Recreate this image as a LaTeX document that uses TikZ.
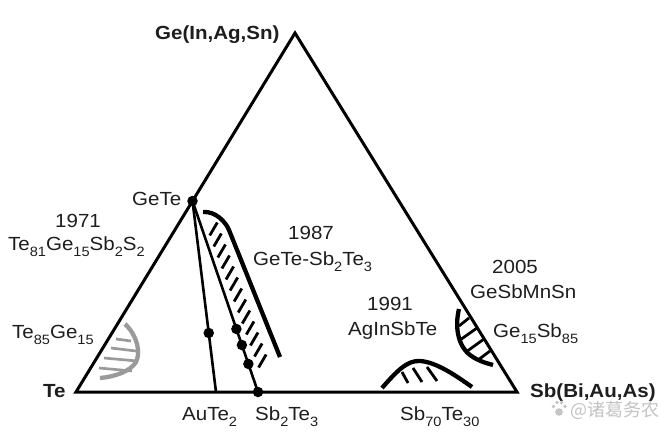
\documentclass[tikz,border=0pt]{standalone}
\usepackage{fontspec}
\setmainfont{Liberation Sans}[FakeStretch=1.08]
\newfontfamily\cjk{Noto Sans CJK SC}
\usetikzlibrary{calc}
\newcommand\sbx[1]{\raisebox{-6pt}{\fontsize{13.5}{13.5}\selectfont #1}}
\definecolor{txt}{HTML}{1E1E1E}
\definecolor{gcurve}{HTML}{9A9A9A}
\definecolor{wmark}{HTML}{C4C4C4}
\begin{document}
\begin{tikzpicture}[x=1pt,y=-1pt,
  lbl/.style={inner sep=0pt, anchor=base west, font=\fontsize{19}{19}\selectfont, text=txt},
  blbl/.style={lbl, font=\fontsize{19}{19}\selectfont\bfseries},
  edge/.style={line width=3pt, line join=miter},
  tie/.style={line width=2.6pt},
  dot/.style={circle, fill=black, inner sep=0pt, minimum size=10.5pt},
  hatch/.style={line width=2.8pt},
  bound/.style={line width=4.3pt},
  ghatch/.style={line width=2.7pt, draw=gcurve},
  gbound/.style={line width=4.3pt, draw=gcurve}]
\fill[white] (0,0) rectangle (667,436);
\useasboundingbox (0,0) rectangle (667,436);

% vertices and points
\coordinate (Te) at (76,392);
\coordinate (Ge) at (295,33);
\coordinate (Sb) at (517,392);
\coordinate (GeTe) at ($(Te)!0.532!(Ge)$);
\coordinate (AuTe) at (216,392);
\coordinate (SbTe) at (258,392);

% triangle and tie lines
\draw[edge] (Te) -- (Ge) -- (Sb) -- cycle;
\draw[tie] (GeTe) -- (AuTe);
\draw[tie] (GeTe) -- (SbTe);

% dots
\node[dot] (dGeTe) at (GeTe) {};
\node[dot] (dAu) at ($(GeTe)!0.691!(AuTe)$) {};
\node[dot] (dSb1) at ($(GeTe)!0.670!(SbTe)$) {};
\node[dot] (dSb2) at ($(GeTe)!0.754!(SbTe)$) {};
\node[dot] (dSb3) at ($(GeTe)!0.853!(SbTe)$) {};
\node[dot] (dSbTe) at (SbTe) {};

% 1987 region
\draw[bound] (203,212) .. controls (216,211) and (226,222.6) .. (229,230) -- (280,357);
\foreach \i in {0,...,12}{
  \pgfmathsetmacro\yc{229+11*\i}
  \pgfmathsetmacro\xc{193+0.340*(\yc-201)+11+0.33*\i}
  \draw[hatch] (\xc-3.8,\yc+6.5) -- (\xc+3.8,\yc-6.5);
}

% 1991 region
\draw[bound] (382,388) .. controls (396,372) and (407,360) .. (420,361) .. controls (436,362) and (455,375) .. (472,387);
\draw[hatch] (402,372) -- (408,383);
\draw[hatch] (413,368) -- (422,382);
\draw[hatch] (427,367) -- (437,381);

% 2005 region
\draw[bound] (459,309) .. controls (455,325) and (457,345) .. (470,355) .. controls (478,361) and (486,363) .. (493,365);
\draw[hatch] (459,326) -- (469,318);
\draw[hatch] (460,340) -- (477,328);
\draw[hatch] (466,352) -- (484,339);
\draw[hatch] (478,360) -- (490,351);

% Te85Ge15 region (grey)
\draw[gbound] (125,324) .. controls (137,335) and (141,352) .. (136,362) .. controls (130,372) and (113,377) .. (100,378);
\draw[ghatch] (116,339) -- (131,341);
\draw[ghatch] (111,348) -- (136,351);
\draw[ghatch] (104,358) -- (137,361);
\draw[ghatch] (99,368) -- (132,371);

% labels
\node[blbl] (tGe) at (155,40) {Ge(In,Ag,Sn)};
\node[lbl] (tGeTe) at (132,205) {GeTe};
\node[lbl] (t1971) at (55,227) {1971};
\node[lbl] (tTeGeSbS) at (8,250) {Te\sbx{81}Ge\sbx{15}Sb\sbx{2}S\sbx{2}};
\node[lbl] (tTeGe) at (12,338) {Te\sbx{85}Ge\sbx{15}};
\node[blbl] (tTe) at (43,397.5) {Te};
\node[lbl] (tAuTe) at (182,420) {AuTe\sbx{2}};
\node[lbl] (tSbTe) at (255,420) {Sb\sbx{2}Te\sbx{3}};
\node[lbl] (t1987) at (288,239) {1987};
\node[lbl] (tGeTeSbTe) at (253,265) {GeTe-Sb\sbx{2}Te\sbx{3}};
\node[lbl] (t1991) at (367,310) {1991};
\node[lbl] (tAIST) at (348,335) {AgInSbTe};
\node[lbl] (t2005) at (492,273) {2005};
\node[lbl] (tGSMS) at (470,298) {GeSbMnSn};
\node[lbl] (tGeSb) at (493,337) {Ge\sbx{15}Sb\sbx{85}};
\node[blbl] (tSb) at (530,397) {Sb(Bi,Au,As)};
\node[lbl] (tSbTe2) at (400,420) {Sb\sbx{70}Te\sbx{30}};

% watermark
\fill[wmark] (559,412) circle (3.8pt);
\fill[wmark] (553.5,406.5) circle (1.9pt);
\fill[wmark] (557,402.5) circle (1.9pt);
\fill[wmark] (561.5,402.5) circle (1.9pt);
\fill[wmark] (565,406.5) circle (1.9pt);
\node[inner sep=0pt, anchor=base west, font=\cjk\fontsize{18}{18}\selectfont, text=wmark] (wm) at (570,416) {@诸葛务农};
\end{tikzpicture}
\end{document}
